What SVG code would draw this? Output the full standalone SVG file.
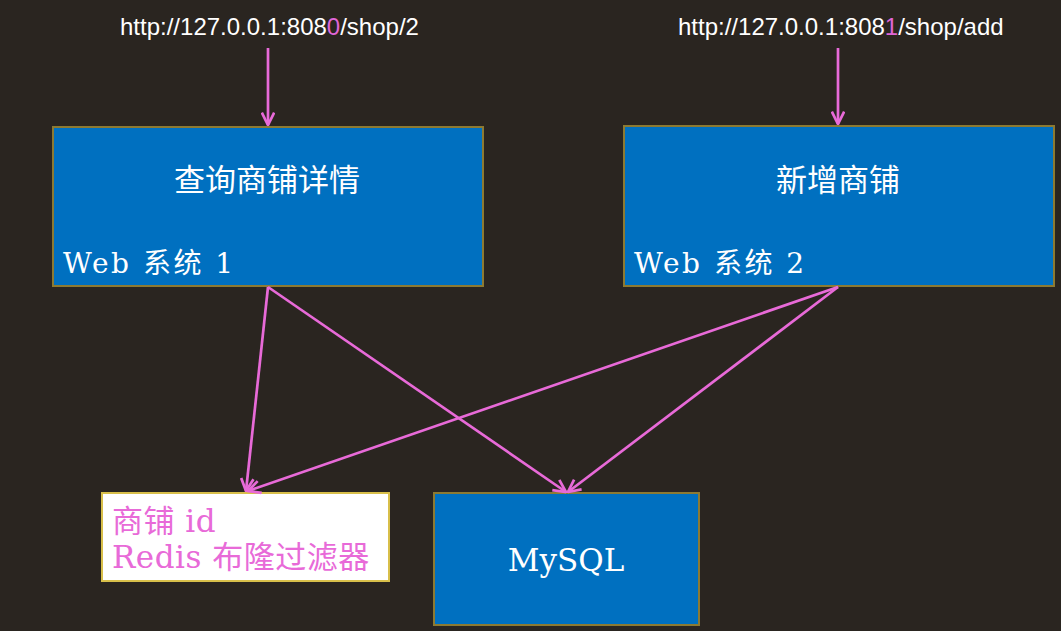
<svg xmlns="http://www.w3.org/2000/svg" width="1061" height="631" viewBox="0 0 1061 631">
<style>
.bg{fill:#2a2520}
.box{fill:#0070c0;stroke:#8c7a32;stroke-width:2}
.redis{fill:#ffffff;stroke:#d8bf4a;stroke-width:2}
.url{font-family:"Liberation Sans",Arial,sans-serif;font-size:24px;fill:#ffffff}
.hl{fill:#e066d8}
.title{font-family:"Noto Sans CJK SC",sans-serif;font-size:31px;fill:#ffffff;text-anchor:middle}
.sys{font-family:"DejaVu Serif","Noto Sans CJK SC",serif;font-size:28px;letter-spacing:2.5px;fill:#ffffff}
.pink{font-family:"DejaVu Serif","Noto Sans CJK SC",serif;font-size:31px;letter-spacing:0.5px;fill:#e86ad8}
.db{font-family:"DejaVu Serif",serif;font-size:31px;fill:#ffffff;text-anchor:middle}
.edge{stroke:#e86ad8;stroke-width:2.7;fill:none;marker-end:url(#arr)}
</style>
<defs>
<marker id="arr" viewBox="0 0 12 12" refX="11" refY="6" markerWidth="5.5" markerHeight="5.5" orient="auto" markerUnits="strokeWidth">
<path d="M1,1 L11,6 L1,11" fill="none" stroke="#e86ad8" stroke-width="2.2"/>
</marker>
</defs>
<rect class="bg" x="0" y="0" width="1061" height="631"/>
<g id="url1"><text class="url" x="120" y="35">http://127.0.0.1:808<tspan class="hl">0</tspan>/shop/2</text></g>
<g id="url2"><text class="url" x="678" y="35">http://127.0.0.1:808<tspan class="hl">1</tspan>/shop/add</text></g>
<g id="web1">
<rect class="box" x="53" y="127" width="430" height="159"/>
<text class="title" x="267" y="191">查询商铺详情</text>
<text class="sys" x="63" y="273">Web 系统 1</text>
</g>
<g id="web2">
<rect class="box" x="624" y="126" width="430" height="160"/>
<text class="title" x="838" y="191">新增商铺</text>
<text class="sys" x="634" y="273">Web 系统 2</text>
</g>
<g id="redis">
<rect class="redis" x="102" y="493" width="287" height="88"/>
<text class="pink" x="112" y="532">商铺 id</text>
<text class="pink" x="112" y="568">Redis 布隆过滤器</text>
</g>
<g id="mysql">
<rect class="box" x="434" y="493" width="265" height="132"/>
<text class="db" x="566" y="571">MySQL</text>
</g>
<g id="connectors">
<line class="edge" x1="268" y1="48" x2="268" y2="125"/>
<line class="edge" x1="838" y1="48" x2="838" y2="124"/>
<line class="edge" x1="268" y1="287" x2="246" y2="491"/>
<line class="edge" x1="268" y1="287" x2="566" y2="492"/>
<line class="edge" x1="838" y1="287" x2="248" y2="491"/>
<line class="edge" x1="838" y1="287" x2="568" y2="492"/>
</g>
</svg>
